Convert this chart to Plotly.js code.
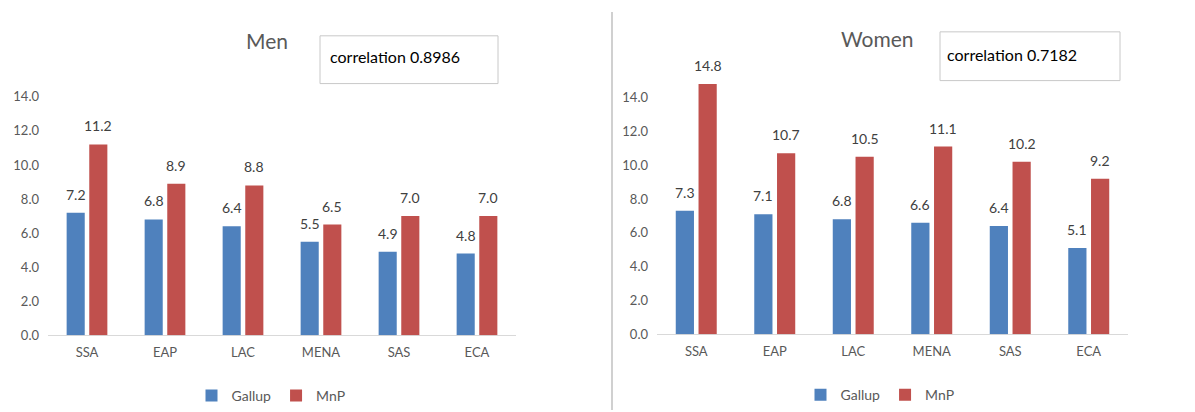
<!DOCTYPE html>
<html>
<head>
<meta charset="utf-8">
<script src="https://cdn.plot.ly/plotly-3.0.1.min.js"></script>
<style>html,body{margin:0;padding:0;background:#fff;}#chart{width:1195px;height:412px;}</style>
</head>
<body>
<div id="chart"></div>
<script>
const regions = ["SSA", "EAP", "LAC", "MENA", "SAS", "ECA"];
const menGallup = [7.2, 6.8, 6.4, 5.5, 4.9, 4.8];
const menMnP = [11.2, 8.9, 8.8, 6.5, 7.0, 7.0];
const womenGallup = [7.3, 7.1, 6.8, 6.6, 6.4, 5.1];
const womenMnP = [14.8, 10.7, 10.5, 11.1, 10.2, 9.2];
const yTicks = [0, 2, 4, 6, 8, 10, 12, 14];
const menCorrelation = "correlation 0.8986";
const womenCorrelation = "correlation 0.7182";

const W = 1195, H = 412;
const BLUE = "#4F81BD", RED = "#C0504D";
const FONT = "Lato, 'Open Sans', sans-serif";
const px = v => v / W;
const py = v => 1 - v / H;

const traces = [
  {type: "bar", name: "Gallup", x: regions, y: menGallup, marker: {color: BLUE}, xaxis: "x", yaxis: "y", legend: "legend", hoverinfo: "x+y"},
  {type: "bar", name: "MnP", x: regions, y: menMnP, marker: {color: RED}, xaxis: "x", yaxis: "y", legend: "legend", hoverinfo: "x+y"},
  {type: "bar", name: "Gallup", x: regions, y: womenGallup, marker: {color: BLUE}, xaxis: "x2", yaxis: "y2", legend: "legend2", hoverinfo: "x+y"},
  {type: "bar", name: "MnP", x: regions, y: womenMnP, marker: {color: RED}, xaxis: "x2", yaxis: "y2", legend: "legend2", hoverinfo: "x+y"}
];

const annotations = [];
function addLabels(vals, xref, yref, shift) {
  vals.forEach((v, i) => {
    annotations.push({x: regions[i], y: v, xref: xref, yref: yref, text: v.toFixed(1),
      showarrow: false, xshift: shift, yshift: 8, yanchor: "bottom",
      font: {family: FONT, size: 14, color: "#404040"}});
  });
}
addLabels(menGallup, "x", "y", -11.3);
addLabels(menMnP, "x", "y", 11.3);
addLabels(womenGallup, "x2", "y2", -11.4);
addLabels(womenMnP, "x2", "y2", 11.4);

annotations.push({x: px(267), y: py(41), xref: "paper", yref: "paper", text: "Men", showarrow: false,
  xanchor: "center", yanchor: "middle", font: {family: FONT, size: 21, color: "#595959"}});
annotations.push({x: px(877), y: py(39), xref: "paper", yref: "paper", text: "Women", showarrow: false,
  xanchor: "center", yanchor: "middle", font: {family: FONT, size: 21, color: "#595959"}});
annotations.push({x: px(328), y: py(57), xref: "paper", yref: "paper", text: menCorrelation, showarrow: false,
  xanchor: "left", yanchor: "middle", font: {family: FONT, size: 16, color: "#000"}});
annotations.push({x: px(945), y: py(55), xref: "paper", yref: "paper", text: womenCorrelation, showarrow: false,
  xanchor: "left", yanchor: "middle", font: {family: FONT, size: 16, color: "#000"}});

const shapes = [
  {type: "rect", xref: "paper", yref: "paper", x0: px(320), x1: px(498), y0: py(36), y1: py(84), line: {color: "#c8c8c8", width: 1}},
  {type: "rect", xref: "paper", yref: "paper", x0: px(940), x1: px(1120), y0: py(32), y1: py(81), line: {color: "#c8c8c8", width: 1}},
  {type: "line", xref: "paper", yref: "paper", x0: px(612), x1: px(612), y0: py(12), y1: 0, line: {color: "#d0d0d0", width: 2}}
];

const xCommon = {type: "category", showgrid: false, showline: false, zeroline: false, ticks: "",
  tickfont: {family: FONT, size: 13, color: "#595959"}, ticklabelstandoff: 8, fixedrange: true};
const yCommon = {range: [0, 16], tickvals: yTicks, ticktext: yTicks.map(v => v.toFixed(1)), showgrid: false,
  zeroline: true, zerolinecolor: "#d9d9d9", zerolinewidth: 1, showline: false, ticks: "",
  tickfont: {family: FONT, size: 13, color: "#595959"}, ticklabelstandoff: 8, fixedrange: true};

const layout = {
  width: W, height: H,
  margin: {l: 0, r: 0, t: 0, b: 0},
  paper_bgcolor: "#fff", plot_bgcolor: "#fff",
  barmode: "group", bargap: 0.42, bargroupgap: 0.2,
  showlegend: true,
  xaxis: Object.assign({}, xCommon, {domain: [px(48), px(516)], anchor: "y"}),
  yaxis: Object.assign({}, yCommon, {domain: [py(337), py(63)], anchor: "x"}),
  xaxis2: Object.assign({}, xCommon, {domain: [px(657), px(1128)], anchor: "y2"}),
  yaxis2: Object.assign({}, yCommon, {domain: [py(336), py(64)], anchor: "x2"}),
  legend: {orientation: "h", x: px(271), y: py(398), xanchor: "center", yanchor: "middle",
    font: {family: FONT, size: 14, color: "#595959"}, itemwidth: 30, tracegroupgap: 0, bgcolor: "rgba(0,0,0,0)"},
  legend2: {orientation: "h", x: px(880), y: py(397), xanchor: "center", yanchor: "middle",
    font: {family: FONT, size: 14, color: "#595959"}, itemwidth: 30, tracegroupgap: 0, bgcolor: "rgba(0,0,0,0)"},
  annotations: annotations,
  shapes: shapes,
  font: {family: FONT}
};

Plotly.newPlot("chart", traces, layout, {displayModeBar: false, staticPlot: false});
</script>
</body>
</html>
